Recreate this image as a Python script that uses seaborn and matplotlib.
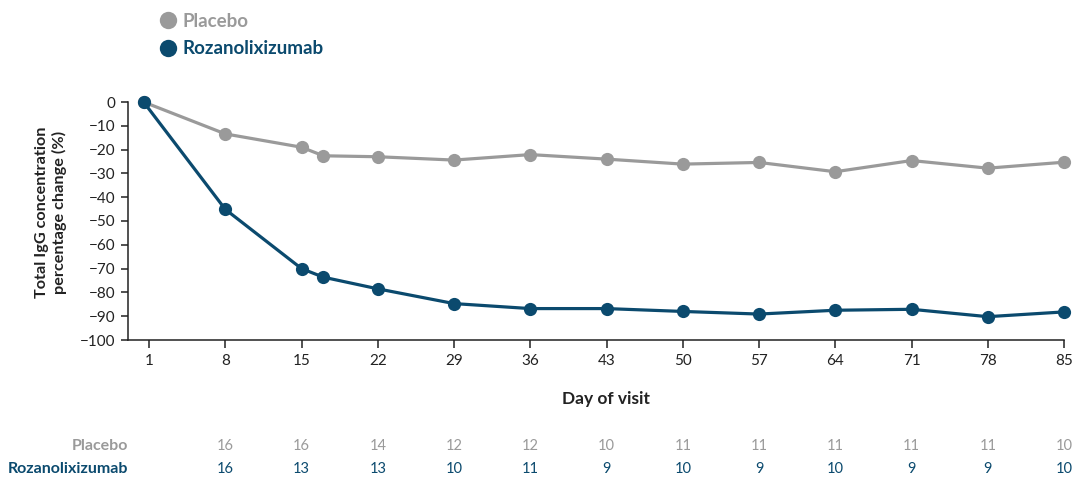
import matplotlib
matplotlib.use("Agg")
import matplotlib.pyplot as plt
from matplotlib.lines import Line2D
import seaborn as sns
import pandas as pd

# Visit days (baseline drawn just before day 1)
days = [0.5, 8, 15, 17, 22, 29, 36, 43, 50, 57, 64, 71, 78, 85]
placebo = [0, -13.4, -19.0, -22.6, -23.0, -24.4, -22.1, -24.0, -26.1, -25.4, -29.3, -24.6, -27.8, -25.3]
rozanolixizumab = [0, -45.1, -70.0, -73.6, -78.5, -84.7, -86.8, -86.8, -88.0, -89.1, -87.5, -87.1, -90.2, -88.2]

tick_days = [1, 8, 15, 22, 29, 36, 43, 50, 57, 64, 71, 78, 85]
y_ticks = list(range(0, -101, -10))

# Patients at risk per visit
n_days = [8, 15, 22, 29, 36, 43, 50, 57, 64, 71, 78, 85]
n_placebo = [16, 16, 14, 12, 12, 10, 11, 11, 11, 11, 11, 10]
n_roza = [16, 13, 13, 10, 11, 9, 10, 9, 10, 9, 9, 10]

groups = ["Placebo", "Rozanolixizumab"]
GREY = "#9a9a9a"
NAVY = "#0b4a6e"
palette = {"Placebo": GREY, "Rozanolixizumab": NAVY}

df = pd.DataFrame({
    "day": days * 2,
    "change": placebo + rozanolixizumab,
    "group": [groups[0]] * len(days) + [groups[1]] * len(days),
})

sns.set_theme(style="white")
plt.rcParams["font.family"] = ["Lato", "DejaVu Sans"]
plt.rcParams["axes.unicode_minus"] = True

fig = plt.figure(figsize=(10.76, 4.82), dpi=100)
ax = fig.add_axes([127.7 / 1076, 1 - 340 / 482, (1064 - 127.7) / 1076, 238 / 482])

sns.lineplot(data=df, x="day", y="change", hue="group", palette=palette,
             marker="o", markersize=9.5, linewidth=2.3, markeredgewidth=0,
             legend=False, ax=ax, zorder=3)
for line in ax.lines:
    line.set_clip_on(False)

ax.set_xlim(-0.96, 85)
ax.set_ylim(-100, 0)
ax.set_xticks(tick_days)
ax.set_xticklabels([str(d) for d in tick_days])
ax.set_yticks(y_ticks)
ax.set_yticklabels([f"\u2212{abs(v)}" if v else "0" for v in y_ticks])

for side in ["top", "right"]:
    ax.spines[side].set_visible(False)
for side in ["left", "bottom"]:
    ax.spines[side].set_color("#222222")
    ax.spines[side].set_linewidth(1.1)
ax.tick_params(axis="both", which="both", direction="out", length=5, width=1.1,
               color="#222222", labelsize=11, labelcolor="#222222", pad=4)
ax.tick_params(axis="x", bottom=True, length=6)
ax.tick_params(axis="y", left=True)

ax.set_xlabel("Day of visit", fontsize=12.5, fontweight="bold", color="#222222")
ax.xaxis.set_label_coords(0.511, -0.215)
ax.set_ylabel("")
fig.text(51 / 1076, 1 - 212 / 482, "Total IgG concentration\npercentage change (%)",
         rotation=90, ha="center", va="center", multialignment="center",
         fontsize=11.7, fontweight="bold", color="#222222", linespacing=1.25)

# Legend
handles = [Line2D([], [], linestyle="none", marker="o", markersize=12.5,
                  markerfacecolor=palette[g], markeredgewidth=0) for g in groups]
leg = fig.legend(handles, groups, loc="upper left", bbox_to_anchor=(157 / 1076, 1 - 13 / 482),
                 frameon=False, handletextpad=0.15, labelspacing=0.55, fontsize=13.5,
                 handlelength=1.2, borderaxespad=0, borderpad=0)
for txt, g in zip(leg.get_texts(), groups):
    txt.set_color(palette[g])
    txt.set_fontweight("bold")

# Numbers at risk table
trans = matplotlib.transforms.blended_transform_factory(ax.transData, fig.transFigure)
rows = [(groups[0], n_placebo, GREY, 1 - 446 / 482), (groups[1], n_roza, NAVY, 1 - 469 / 482)]
for name, counts, col, yy in rows:
    fig.text(128 / 1076, yy, name, ha="right", va="center", fontsize=11.5,
             fontweight="bold", color=col)
    for d, n in zip(n_days, counts):
        ax.text(d, yy, str(n), transform=trans, ha="center", va="center",
                fontsize=10.5, color=col)

fig.savefig("out.png", dpi=100)
